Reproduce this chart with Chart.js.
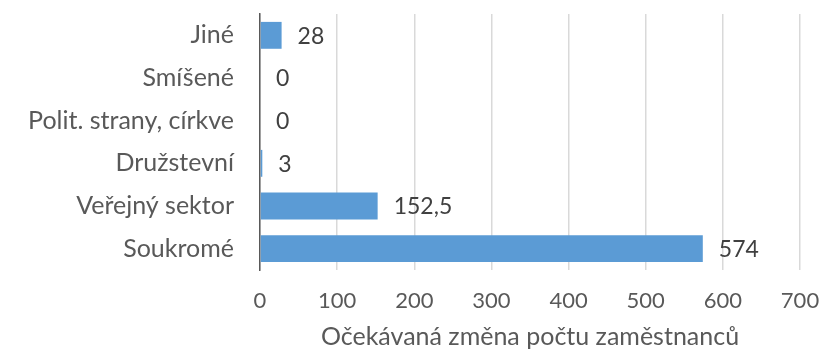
<!DOCTYPE html>
<html lang="cs">
<head>
<meta charset="utf-8">
<script src="https://cdn.jsdelivr.net/npm/chart.js@4/dist/chart.umd.min.js"></script>
<style>
  html, body { margin: 0; padding: 0; background: #fff; }
  #wrap { width: 836px; height: 352px; }
</style>
</head>
<body>
<div id="wrap"><canvas id="chart" width="836" height="352"></canvas></div>
<script>
// Data
const categories = ['Jiné', 'Smíšené', 'Polit. strany, církve', 'Družstevní', 'Veřejný sektor', 'Soukromé'];
const values = [28, 0, 0, 3, 152.5, 574];
const xTicks = [0, 100, 200, 300, 400, 500, 600, 700];
const axisTitle = 'Očekávaná změna počtu zaměstnanců';

const FONT = 'Lato, Carlito, "Liberation Sans", sans-serif';
const TEXT = '#595959';

// Popisky hodnot vedle pruhů
const valueLabels = {
    id: 'valueLabels',
    afterDatasetsDraw(chart) {
        const ctx = chart.ctx;
        const meta = chart.getDatasetMeta(0);
        ctx.save();
        ctx.font = '23px ' + FONT;
        ctx.fillStyle = '#404040';
        ctx.textAlign = 'left';
        ctx.textBaseline = 'middle';
        meta.data.forEach((bar, i) => {
            const txt = String(values[i]).replace('.', ',');
            ctx.fillText(txt, bar.x + 16, bar.y + 1);
        });
        ctx.restore();
    }
};

new Chart(document.getElementById('chart'), {
    type: 'bar',
    data: {
        labels: categories,
        datasets: [{
            data: values,
            backgroundColor: '#5B9BD5',
            borderWidth: 0,
            barPercentage: 0.63,
            categoryPercentage: 1
        }]
    },
    options: {
        indexAxis: 'y',
        responsive: false,
        animation: false,
        layout: { padding: { top: 14, right: 36, left: 0, bottom: 0 } },
        plugins: {
            legend: { display: false },
            tooltip: { enabled: false }
        },
        scales: {
            x: {
                min: 0,
                max: 700,
                afterBuildTicks: (s) => { s.ticks = xTicks.map(v => ({ value: v })); },
                afterFit: (s) => { s.height = 82; s.paddingLeft = 0; s.paddingRight = 0; },
                grid: { color: '#d9d9d9', lineWidth: 1.5, drawTicks: false },
                border: { display: false },
                ticks: {
                    padding: 18,
                    color: TEXT,
                    font: { family: FONT, size: 22 }
                },
                title: {
                    display: true,
                    text: axisTitle,
                    color: TEXT,
                    font: { family: FONT, size: 25 },
                    padding: { top: 5, bottom: 0 }
                }
            },
            y: {
                afterFit: (s) => { s.width = 260; s.paddingTop = 0; s.paddingBottom = 0; },
                grid: { display: false, drawTicks: false },
                border: { display: true, color: '#595959', width: 1.5 },
                ticks: {
                    padding: 26,
                    color: TEXT,
                    font: { family: FONT, size: 25 }
                }
            }
        }
    },
    plugins: [valueLabels]
});
</script>
</body>
</html>
